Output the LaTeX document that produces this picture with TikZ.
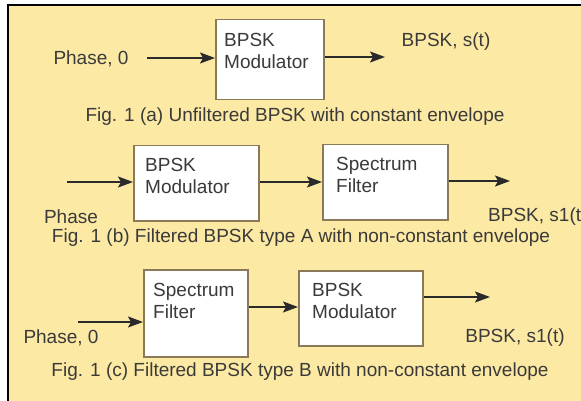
\documentclass[tikz,border=0pt]{standalone}
\usepackage{fontspec}
\setmainfont{Liberation Sans}
\usetikzlibrary{arrows.meta}
\definecolor{bgyellow}{HTML}{FCE9A4}
\definecolor{boxline}{HTML}{8A7A58}
\definecolor{txt}{HTML}{3A3A3A}
\definecolor{arr}{HTML}{2A2A2A}
\tikzset{
  box/.style={draw=boxline, line width=1.5pt, fill=white, anchor=north west, inner sep=0pt},
  boxtext/.style={anchor=north west, align=left, inner sep=0pt, text=txt, font=\fontsize{19}{22}\selectfont},
  lbl/.style={inner sep=0pt, text=txt, font=\fontsize{19}{22}\selectfont},
  flow/.style={draw=arr, line width=1.3pt, -{Stealth[length=15pt,width=11pt,inset=3pt]}}
}
\begin{document}
\begin{tikzpicture}[x=1pt,y=-1pt]
\useasboundingbox (0,0) rectangle (581,401);
\fill[white] (0,0) rectangle (581,401);
\fill[bgyellow] (8,5) rectangle (581,401);
\draw[black, line width=1.5pt] (8,401) -- (8,5) -- (581,5);

% (a)
\node[box, minimum width=108pt, minimum height=80pt] (a1) at (215,19) {};
\node[boxtext] (a1t) at (224,33) {BPSK\\Modulator};
\node[lbl] (aph) at (91,59) {Phase, 0};
\coordinate (ain) at (147,58);
\coordinate (aout) at (385,57);
\draw[flow] (ain) -- (ain -| a1.west);
\draw[flow] (aout -| a1.east) -- (aout);
\node[lbl] (aos) at (446,42) {BPSK, s(t)};
\node[lbl] (acap) at (295,117) {Fig. 1 (a) Unfiltered BPSK with constant envelope};

% (b)
\node[box, minimum width=125pt, minimum height=75pt] (b1) at (133,145) {};
\node[boxtext] (b1t) at (145,158) {BPSK\\Modulator};
\node[box, minimum width=125pt, minimum height=75pt] (b2) at (322,144) {};
\node[boxtext] (b2t) at (336,157) {Spectrum\\Filter};
\coordinate (bin) at (67,182);
\coordinate (bout) at (510,181);
\draw[flow] (bin) -- (bin -| b1.west);
\draw[flow] (bin -| b1.east) -- (bin -| b2.west);
\draw[flow] (bout -| b2.east) -- (bout);
\node[lbl] (bph) at (71,217) {Phase};
\node[lbl, anchor=west] (bos) at (488,217) {BPSK, s1(t)};
\node[lbl] (bcap) at (301,238) {Fig. 1 (b) Filtered BPSK type A with non-constant envelope};

% (c)
\node[box, minimum width=104pt, minimum height=87pt] (c1) at (143,269) {};
\node[boxtext] (c1t) at (153,283) {Spectrum\\Filter};
\node[box, minimum width=124pt, minimum height=75pt] (c2) at (298,270) {};
\node[boxtext] (c2t) at (312,283) {BPSK\\Modulator};
\coordinate (cin) at (78,322);
\coordinate (cmid) at (250,307);
\coordinate (cout) at (490,297);
\draw[flow] (cin) -- (cin -| c1.west);
\draw[flow] (cmid -| c1.east) -- (cmid -| c2.west);
\draw[flow] (cout -| c2.east) -- (cout);
\node[lbl] (cph) at (61,338) {Phase, 0};
\node[lbl] (cos) at (515,338) {BPSK, s1(t)};
\node[lbl] (ccap) at (300,372) {Fig. 1 (c) Filtered BPSK type B with non-constant envelope};
\end{tikzpicture}
\end{document}
